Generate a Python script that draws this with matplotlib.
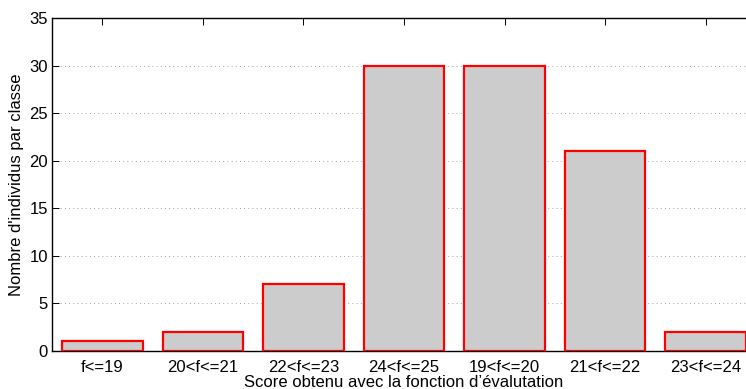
import matplotlib
matplotlib.use('Agg')
import matplotlib.pyplot as plt
import numpy as np

plt.rcParams['font.family'] = ['Liberation Sans', 'DejaVu Sans']

categories = ['f<=19', '20<f<=21', '22<f<=23', '24<f<=25', '19<f<=20', '21<f<=22', '23<f<=24']
counts = [1, 2, 7, 30, 30, 21, 2]
yticks = [0, 5, 10, 15, 20, 25, 30, 35]

fig = plt.figure(figsize=(7.46, 3.89), dpi=100)
ax = fig.add_axes([0.0697, 0.0977, 0.9437, 0.856])

x = np.arange(1, len(categories) + 1)
ax.bar(x, counts, width=0.8, color='#cccccc', edgecolor='red', linewidth=1.6, zorder=3)

ax.set_xlim(0.5, len(categories) + 0.5)
ax.set_ylim(0, 35)
ax.set_xticks(x)
ax.set_xticklabels(categories)
ax.set_yticks(yticks)
ax.tick_params(direction='in', labelsize=12, top=True, right=True, length=5, width=0.7, pad=3)
ax.tick_params(axis='x', pad=6.5)
ax.yaxis.grid(True, linestyle=(0, (1, 4)), color='#888888', linewidth=0.6, zorder=0)
ax.set_axisbelow(True)
for spine in ax.spines.values():
    spine.set_linewidth(1.0)

ax.set_xlabel('Score obtenu avec la fonction d\u2019évalutation', fontsize=12, labelpad=0)
ax.set_ylabel("Nombre d'individus par classe", fontsize=12, labelpad=4)

fig.savefig('out.png', dpi=100)
